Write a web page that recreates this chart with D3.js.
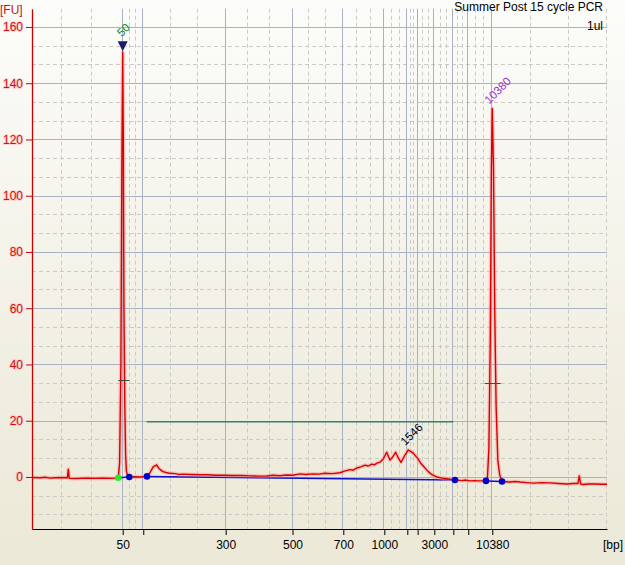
<!DOCTYPE html>
<html>
<head>
<meta charset="utf-8">
<script src="https://cdn.jsdelivr.net/npm/d3@7"></script>
<style>
  body { margin: 0; background: #ece9d8; }
  svg { display: block; }
  text { font-family: "Liberation Sans", Arial, sans-serif; }
</style>
</head>
<body>
<svg id="chart" width="625" height="565"></svg>
<script>
// Ladder: fragment sizes and their migration times (s)
const ladderBp = [50, 100, 300, 500, 700, 1000, 1500, 2000, 3000, 5000, 7000, 10380];
const ladderTime = [43.41, 46.45, 58.63, 68.51, 76.02, 82.08, 85.48, 87.01, 89.47, 92.28, 94.49, 98.04];
const labeledBp = [50, 300, 500, 700, 1000, 3000, 10380];
const timeRange = [30, 115];
const fuTicks = [0, 20, 40, 60, 80, 100, 120, 140, 160];

// Fluorescence trace [time (s), FU]
const trace = [
  [30.00, -0.2], [31.20, -0.3], [31.92, -0.1], [32.70, -0.4], [33.40, -0.3], [34.43, -0.2],
  [35.22, -0.3], [35.37, 2.8], [35.51, -0.5], [36.30, -0.6], [37.10, -0.5], [38.20, -0.4],
  [39.31, -0.5], [40.40, -0.4], [41.53, -0.5], [42.56, -0.4], [42.76, -0.3],
  [42.95, 5], [43.14, 40], [43.28, 110], [43.41, 151], [43.50, 120], [43.59, 60],
  [43.72, 25], [43.84, 8], [43.96, 2], [44.14, 0.5], [44.38, 0], [45.23, 0.1],
  [45.96, 0], [47.00, 0.2], [47.44, 1.5], [47.89, 3.5], [48.43, 4.3], [48.77, 3.0],
  [49.36, 1.9], [49.81, 1.6], [50.40, 1.3], [51.14, 1.2], [51.70, 0.9], [52.32, 1.0],
  [53.36, 0.9], [54.83, 0.8], [56.00, 0.8], [57.05, 0.6], [58.40, 0.6], [59.71, 0.5],
  [61.00, 0.5], [62.22, 0.4], [63.50, 0.3], [64.74, 0.35], [65.60, 0.6], [66.66, 0.45],
  [67.60, 0.7], [68.58, 0.6], [69.62, 1.1], [70.50, 0.9], [71.54, 1.1], [72.40, 1.0],
  [73.31, 1.3], [74.40, 1.2], [75.53, 1.5], [76.20, 2.1], [77.01, 2.6], [77.50, 2.4],
  [78.05, 3.2], [78.60, 3.6], [79.23, 4.2], [79.70, 3.9], [80.26, 4.6], [80.60, 4.3],
  [81.00, 4.9], [81.45, 5.3], [81.89, 6.3], [82.43, 8.8], [82.92, 6.0], [83.29, 7.0],
  [83.76, 8.8], [84.10, 7.0], [84.55, 5.2], [85.14, 7.8], [85.63, 9.6], [86.03, 9.0],
  [86.37, 8.4], [86.69, 7.5], [87.02, 6.6], [87.43, 5.0], [87.84, 3.9], [88.24, 2.8],
  [88.58, 1.9], [89.13, 0.8], [89.82, 0.0], [90.61, -0.4], [91.49, -0.7], [92.53, -1.1],
  [93.56, -1.3], [94.10, -1.1], [94.75, -1.4], [95.40, -1.3], [95.93, -1.4], [97.11, -1.4],
  [97.33, 0], [97.54, 10], [97.75, 50], [97.91, 110], [98.04, 131], [98.22, 110],
  [98.40, 60], [98.61, 25], [98.86, 6], [99.12, 1], [99.48, -1.6], [100.66, -1.8],
  [101.40, -1.6], [102.14, -1.8], [103.10, -2.0], [104.06, -2.2], [105.30, -2.0],
  [106.57, -2.1], [107.80, -2.3], [109.08, -2.5], [110.00, -2.3], [110.71, -2.3],
  [110.90, 0.4], [111.11, -2.5], [111.45, -2.7], [112.30, -2.5], [113.23, -2.5],
  [114.10, -2.6], [115.00, -2.6]
];

// Peak start/end markers and the baseline drawn between them
const peakDots = [
  { t: 42.76, fu: -0.3, color: "#22ee22" },
  { t: 44.38, fu: 0.0, color: "#0000cc" },
  { t: 47.00, fu: 0.2, color: "#0000cc" },
  { t: 92.53, fu: -1.1, color: "#0000cc" },
  { t: 97.11, fu: -1.4, color: "#0000cc" },
  { t: 99.48, fu: -1.6, color: "#0000cc" }
];
const baselines = [[0, 1], [2, 3], [4, 5]];

// Peak width markers [start, end, FU]
const widthMarks = [[42.76, 44.38, 34.4], [96.9, 99.3, 33.3]];

// Smear region [start, end, FU]
const region = [46.95, 92.28, 19.6];

// Labelled peaks
const peaks = [
  { t: 43.41, fu: 151, label: "50", color: "#1a8a1a", marker: true },
  { t: 85.63, fu: 9.6, label: "1546", color: "#000000", marker: false },
  { t: 98.04, fu: 131, label: "10380", color: "#9933cc", marker: false }
];

const width = 625, height = 565;
const margin = { top: 8.7, right: 18, bottom: 36, left: 32 };

const svg = d3.select("#chart");

const defs = svg.append("defs");
const grad = defs.append("linearGradient")
  .attr("id", "bg")
  .attr("x1", 0).attr("y1", 0).attr("x2", 0).attr("y2", 1);
grad.append("stop").attr("offset", "0%").attr("stop-color", "#fcfcfa");
grad.append("stop").attr("offset", "95%").attr("stop-color", "#ece9d8");

svg.append("rect")
  .attr("width", width)
  .attr("height", height)
  .attr("fill", "url(#bg)");

const x = d3.scaleLinear()
  .domain(timeRange)
  .range([margin.left, width - margin.right]);

const y = d3.scaleLinear()
  .domain([-18.5, 166.5])
  .range([height - margin.bottom, margin.top]);

const bpTime = d3.scaleLinear().domain(ladderBp).range(ladderTime);

// Horizontal grid: solid at majors, dashed at thirds
const minorFu = d3.range(-6, 26)
  .map((k) => (k * 20) / 3)
  .filter((v, i) => (i % 3 !== 0) && v > y.domain()[0] && v < y.domain()[1]);

svg.append("g")
  .selectAll("line")
  .data(minorFu)
  .join("line")
  .attr("x1", margin.left)
  .attr("x2", width - margin.right)
  .attr("y1", (d) => Math.round(y(d)) + 0.5)
  .attr("y2", (d) => Math.round(y(d)) + 0.5)
  .attr("stroke", "#cacac6")
  .attr("stroke-dasharray", "4,3");

// Vertical grid: dashed at thirds between ladder times and plot edges
const gridStops = [timeRange[0], ...ladderTime, timeRange[1]];
const minorT = [];
for (let i = 0; i < gridStops.length - 1; i++) {
  const a = gridStops[i], b = gridStops[i + 1];
  minorT.push(a + (b - a) / 3, a + (2 * (b - a)) / 3);
}
minorT.push(timeRange[1]);

svg.append("g")
  .selectAll("line")
  .data(minorT)
  .join("line")
  .attr("x1", (d) => Math.round(x(d)) - 0.5)
  .attr("x2", (d) => Math.round(x(d)) - 0.5)
  .attr("y1", y.range()[1])
  .attr("y2", y.range()[0])
  .attr("stroke", "#cacac6")
  .attr("stroke-dasharray", "4,3");

svg.append("g")
  .selectAll("line")
  .data(fuTicks)
  .join("line")
  .attr("x1", margin.left)
  .attr("x2", width - margin.right)
  .attr("y1", (d) => Math.round(y(d)) + 0.5)
  .attr("y2", (d) => Math.round(y(d)) + 0.5)
  .attr("stroke", "#a9b1c2");

svg.append("g")
  .selectAll("line")
  .data(ladderTime)
  .join("line")
  .attr("x1", (d) => Math.round(x(d)) - 0.5)
  .attr("x2", (d) => Math.round(x(d)) - 0.5)
  .attr("y1", y.range()[1])
  .attr("y2", y.range()[0])
  .attr("stroke", "#a9b1c2");

// Smear region line
svg.append("line")
  .attr("x1", x(region[0]))
  .attr("x2", x(region[1]))
  .attr("y1", y(region[2]))
  .attr("y2", y(region[2]))
  .attr("stroke", "#3a7d6e")
  .attr("stroke-width", 1.5);

// Baselines
svg.append("g")
  .selectAll("line")
  .data(baselines)
  .join("line")
  .attr("x1", (d) => x(peakDots[d[0]].t))
  .attr("y1", (d) => y(peakDots[d[0]].fu))
  .attr("x2", (d) => x(peakDots[d[1]].t))
  .attr("y2", (d) => y(peakDots[d[1]].fu))
  .attr("stroke", "#1010c8")
  .attr("stroke-width", 1.5);

// Trace with glow
const line = d3.line()
  .x((d) => x(d[0]))
  .y((d) => y(d[1]));

svg.append("path")
  .datum(trace)
  .attr("d", line)
  .attr("fill", "none")
  .attr("stroke", "#ff9090")
  .attr("stroke-opacity", 0.45)
  .attr("stroke-width", 4)
  .attr("stroke-linejoin", "round");

svg.append("path")
  .datum(trace)
  .attr("d", line)
  .attr("fill", "none")
  .attr("stroke", "#d80000")
  .attr("stroke-width", 1.4)
  .attr("stroke-linejoin", "round");

// Peak width markers
svg.append("g")
  .selectAll("line")
  .data(widthMarks)
  .join("line")
  .attr("x1", (d) => x(d[0]))
  .attr("x2", (d) => x(d[1]))
  .attr("y1", (d) => Math.round(y(d[2])) + 0.5)
  .attr("y2", (d) => Math.round(y(d[2])) + 0.5)
  .attr("stroke", "#3e4e3e");

// Peak dots
svg.append("g")
  .selectAll("circle")
  .data(peakDots)
  .join("circle")
  .attr("cx", (d) => x(d.t))
  .attr("cy", (d) => y(d.fu))
  .attr("r", 3.3)
  .attr("fill", (d) => d.color);

// Marker triangle
peaks.filter((d) => d.marker).forEach((d) => {
  const px = x(d.t), py = y(d.fu) - 1;
  svg.append("path")
    .attr("d", `M${px - 5},${py - 10}L${px + 5},${py - 10}L${px},${py}Z`)
    .attr("fill", "#1c1c6a");
});

// Peak labels
svg.append("g")
  .selectAll("text")
  .data(peaks)
  .join("text")
  .attr("transform", (d) => {
    const px = x(d.t) - (d.marker ? 1 : 3);
    const py = y(d.fu) - (d.marker ? 15 : 4);
    return `translate(${px},${py}) rotate(-45)`;
  })
  .attr("font-size", 11.5)
  .attr("fill", (d) => d.color)
  .text((d) => d.label);

// Axes
const xAxis = d3.axisBottom(x)
  .tickValues(ladderBp.map((bp) => bpTime(bp)))
  .tickSize(6)
  .tickSizeOuter(0)
  .tickPadding(5)
  .tickFormat((t, i) => (labeledBp.includes(ladderBp[i]) ? ladderBp[i] : ""));

const gx = svg.append("g")
  .attr("transform", `translate(0,${y.range()[0]})`)
  .call(xAxis);
gx.select(".domain").attr("stroke", "#000");
gx.selectAll(".tick line").attr("stroke", "#000");
gx.selectAll(".tick text")
  .attr("font-size", 12)
  .attr("font-family", "Liberation Sans, Arial, sans-serif")
  .attr("fill", "#000");

const yAxis = d3.axisLeft(y)
  .tickValues(fuTicks)
  .tickSize(6)
  .tickSizeOuter(0)
  .tickPadding(3);

const gy = svg.append("g")
  .attr("transform", `translate(${margin.left},0)`)
  .call(yAxis);
gy.select(".domain").attr("stroke", "#cc0000").attr("stroke-width", 1.3);
gy.selectAll(".tick line").attr("stroke", "#cc0000");
gy.selectAll(".tick text")
  .attr("font-size", 12)
  .attr("font-family", "Liberation Sans, Arial, sans-serif")
  .attr("fill", "#cc1010")
  .attr("stroke", "#ffb0b0")
  .attr("stroke-opacity", 0.5)
  .attr("stroke-width", 2)
  .attr("paint-order", "stroke");

// Unit labels and title
svg.append("text")
  .attr("x", 0)
  .attr("y", 14)
  .attr("font-size", 12)
  .attr("fill", "#cc1010")
  .text("[FU]");

svg.append("text")
  .attr("x", 623)
  .attr("y", 549)
  .attr("text-anchor", "end")
  .attr("font-size", 12)
  .attr("fill", "#000")
  .text("[bp]");

svg.append("text")
  .attr("x", 603)
  .attr("y", 11)
  .attr("text-anchor", "end")
  .attr("font-size", 12)
  .attr("fill", "#000")
  .text("Summer Post 15 cycle PCR");

svg.append("text")
  .attr("x", 603)
  .attr("y", 30)
  .attr("text-anchor", "end")
  .attr("font-size", 12)
  .attr("fill", "#000")
  .text("1ul");
</script>
</body>
</html>
